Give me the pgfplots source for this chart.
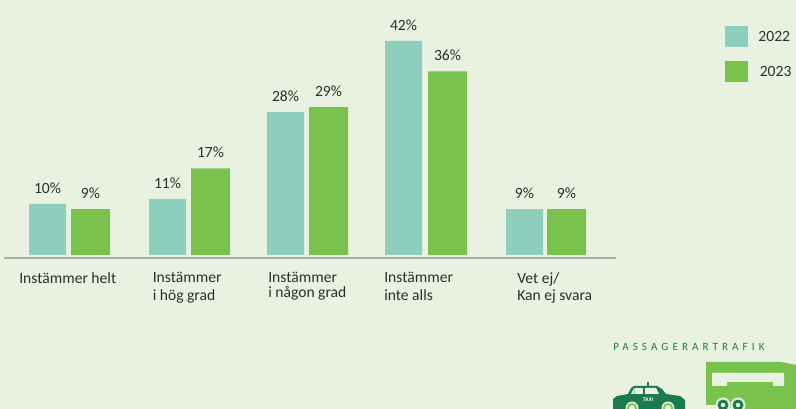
\documentclass[border=0pt]{standalone}
\usepackage{pgfplots}
\pgfplotsset{compat=1.18}
\usepackage{fontspec}
\setmainfont{Carlito}
\newfontfamily\spaced[LetterSpace=37]{Carlito}
\definecolor{bgc}{HTML}{E9F2E0}
\definecolor{teal22}{HTML}{8DCFBC}
\definecolor{green23}{HTML}{7AC24E}
\definecolor{txt}{HTML}{2E2E2E}
\definecolor{dkg}{HTML}{1A7A50}
\definecolor{axl}{HTML}{A9ADA6}
\begin{document}
\begin{tikzpicture}
\useasboundingbox (0pt,-113.25pt) rectangle (597pt,193.5pt);
\fill[bgc] (0pt,-113.25pt) rectangle (597pt,193.5pt);
\begin{axis}[
  scale only axis, width=597pt, height=193.5pt,
  xmin=0, xmax=796, ymin=-0.6, ymax=50,
  clip=false,
  axis line style={draw=none},
  ytick=\empty,
  xtick={19,152.5,268,384,517},
  xticklabels={{Instämmer helt},{Instämmer\\i hög grad},{Instämmer\\[-2.5pt]i någon grad},{Instämmer\\inte alls},{Vet ej/\\Kan ej svara}},
  xtick style={draw=none},
  xticklabel style={anchor=north west, align=left, font=\fontsize{11.7}{13.4}\selectfont, text=txt, inner sep=0pt, yshift=-6.25pt},
  ybar, bar shift=0pt,
  /pgf/number format/assume math mode=true,
  nodes near coords={\pgfmathprintnumber{\pgfplotspointmeta}\%},
  every node near coord/.append style={font=\fontsize{11.7}{13}\selectfont, text=txt, inner sep=0pt, yshift=7.75pt},
  legend style={at={(axis cs:724.5,49.9)}, anchor=north west, draw=none, fill=none,
    font=\fontsize{11.7}{13}\selectfont, text=txt, row sep=10.5pt, inner sep=0pt, outer ysep=0pt,
    yshift=-19pt},
  legend cell align=left,
]
\addplot[draw=none, fill=teal22, bar width=27.75pt,
  legend image code/.code={\fill[teal22] (0pt,-8pt) rectangle (17.25pt,8pt);}]
  coordinates {(47.5,10) (167.5,11) (285.5,28) (403.5,42) (524.5,9)};
\addlegendentry{\hspace*{6pt}\raisebox{-1.5pt}{2022}}
\addplot[draw=none, fill=green23, bar width=29.25pt,
  legend image code/.code={\fill[green23] (0pt,-8pt) rectangle (17.25pt,8pt);}]
  coordinates {(90.5,9) (210.5,17) (328.5,29) (447.5,36) (566.5,9)};
\addlegendentry{\hspace*{7pt}\raisebox{-1.5pt}{2023}}
\end{axis}
\begin{scope}[x=0.75pt,y=-0.75pt,yshift=193.5pt]
\draw[color=axl, line width=1.2pt] (4,258) -- (616,258);
\node[anchor=west, inner sep=0pt, text=dkg, font=\spaced\fontsize{8.3}{10}\selectfont] at (613,347) {PASSAGERARTRAFIK};
\clip (0,0) rectangle (796,409);
% bus
\fill[green23] (706,362) -- (781,362) -- (796,365) -- (796,415) -- (706,405) -- cycle;
\fill[bgc] (712,373) -- (784,373) -- (784,386) -- (773,386) -- (773,382) -- (727,382) -- (727,386) -- (712,386) -- cycle;
\fill[bgc] (706,405) rectangle (716,415);
\foreach \x in {723,738}{\fill[bgc] (\x,405) circle (7.5); \fill[dkg] (\x,405) circle (5.5); \fill[bgc] (\x,405) circle (2.2);}
% taxi
\fill[dkg] (613,409) -- (613,399) -- (617,396) -- (628,394) -- (631,388) -- (634,386) -- (657,386) -- (662,389) -- (666,394) -- (680,396) -- (685,400) -- (685,409) -- cycle;
\fill[dkg] (647,382) rectangle (649,387);
\fill[bgc] (631,394) -- (634,388) -- (634.5,388) -- (634.5,394) -- cycle;
\fill[bgc] (635,388) rectangle (643,394);
\fill[bgc] (645,388) -- (656,388) -- (659,394) -- (645,394) -- cycle;
\foreach \x in {632,668}{\fill[bgc] (\x,408) circle (6.5); \fill[green23] (\x,408) circle (5); \fill[bgc] (\x,408) circle (3);}
\node[text=white, inner sep=0pt, font=\bfseries\itshape\fontsize{4.2}{5}\selectfont] at (648,400) {TAXI};
\end{scope}
\end{tikzpicture}
\end{document}
